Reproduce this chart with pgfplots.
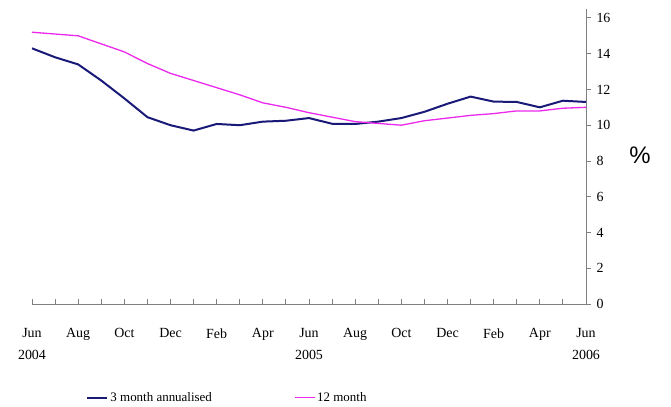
\documentclass[border=0pt]{standalone}
\usepackage{fontspec}
\setmainfont{Liberation Serif}
\newfontfamily\arialfont{Liberation Sans}
\usepackage{pgfplots}
\pgfplotsset{compat=1.18}
\definecolor{navyline}{RGB}{25,25,120}
\definecolor{magline}{RGB}{235,40,235}
\definecolor{axisgray}{RGB}{128,128,128}
\begin{document}
\begin{tikzpicture}
\useasboundingbox (0,0) rectangle (671bp,407bp);
\begin{axis}[
  at={(32bp,103bp)}, anchor=origin,
  scale only axis, width=554bp, height=295bp,
  xmin=0, xmax=24, ymin=0, ymax=16.5,
  axis x line*=bottom, axis y line*=right,
  axis line style={axisgray, line width=0.9bp},
  every tick/.style={axisgray, line width=0.9bp},
  major tick length=5bp, minor tick length=5bp,
  xtick align=inside, ytick align=outside,
  xtick={0,2,...,24}, minor xtick={1,3,...,23},
  xticklabels={Jun\\2004,Aug,Oct,Dec,Feb,Apr,Jun\\2005,Aug,Oct,Dec,Feb,Apr,Jun\\2006},
  x tick label style={align=center, font=\fontsize{14}{22}\selectfont, yshift=-21bp},
  ytick={0,2,...,16},
  y tick label style={font=\fontsize{14}{17}\selectfont, xshift=2bp},
  /pgf/number format/assume math mode=true,
  ylabel={\arialfont\%},
  every axis y label/.style={at={(axis description cs:1.0975,0.505)}, anchor=center, font=\fontsize{24}{28}\selectfont},
  legend columns=2,
  legend style={at={(axis description cs:0.098,-0.318)}, anchor=west, draw=none, fill=none,
    font=\fontsize{13}{16}\selectfont, inner sep=0pt,
    /tikz/every even column/.append style={column sep=80bp}},
  legend image code/.code={\draw[#1] (0bp,0bp) -- (20bp,0bp);},
]
\addplot[navyline, line width=2bp] coordinates {
  (0,14.3) (1,13.8) (2,13.4) (3,12.5) (4,11.5) (5,10.45) (6,10.0) (7,9.7)
  (8,10.07) (9,10.0) (10,10.2) (11,10.25) (12,10.4) (13,10.08) (14,10.07)
  (15,10.2) (16,10.4) (17,10.75) (18,11.2) (19,11.6) (20,11.32) (21,11.3)
  (22,11.0) (23,11.37) (24,11.3)
};
\addlegendentry{3 month annualised}
\addplot[magline, line width=1.3bp] coordinates {
  (0,15.2) (1,15.1) (2,15.0) (3,14.55) (4,14.1) (5,13.45) (6,12.9) (7,12.5)
  (8,12.1) (9,11.7) (10,11.25) (11,11.0) (12,10.7) (13,10.45) (14,10.2)
  (15,10.1) (16,10.0) (17,10.25) (18,10.4) (19,10.55) (20,10.65) (21,10.8)
  (22,10.8) (23,10.95) (24,11.0)
};
\addlegendentry{12 month}
\end{axis}
\end{tikzpicture}
\end{document}
